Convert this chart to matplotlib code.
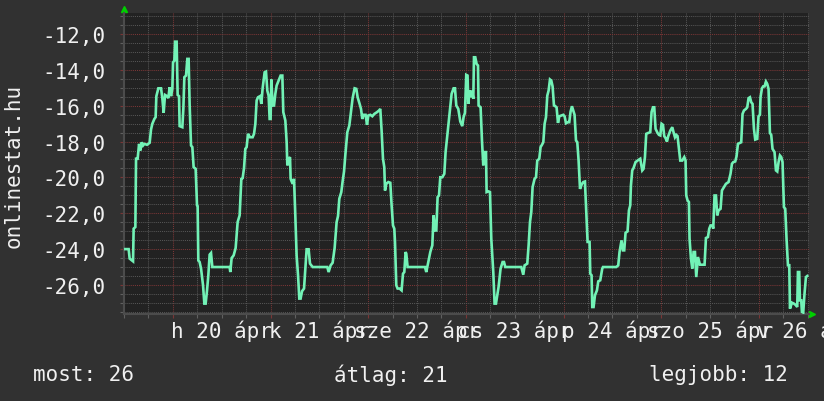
import matplotlib
matplotlib.use("Agg")
import matplotlib.pyplot as plt
import matplotlib.transforms as mtransforms
from matplotlib.ticker import MultipleLocator, FuncFormatter

# hours since apr 20 00:00, temperature readings
hours = [
    -11.67, -10.86, -10.61, -9.78, -9.63, -9.21, -9.04, -8.65, -8.30, -7.98,
    -7.66, -7.32, -7.00, -6.34, -5.70, -5.36, -5.04, -4.54, -4.23, -4.05,
    -3.56, -2.90, -2.58, -2.26, -1.92, -1.42, -1.11, -0.79, -0.44, -0.12,
    0.05, 0.37, 0.54, 0.93, 1.18, 1.52, 1.67, 2.33, 2.58, 2.83,
    3.24, 3.56, 3.88, 4.13, 4.47, 4.79, 5.11, 5.60, 5.94, 6.09,
    6.26, 6.58, 6.93, 7.42, 7.74, 8.06, 8.40, 8.72, 9.04, 9.38,
    9.70, 13.95, 14.12, 14.44, 14.94, 15.43, 15.92, 16.41,
    16.83, 17.15, 17.49, 17.81, 18.13, 18.47, 18.96, 19.60, 19.95, 20.27,
    20.59, 20.93, 21.42, 21.74, 22.06, 22.55, 22.89, 23.21, 23.53, 23.78,
    24.02, 24.20, 24.52, 24.86, 25.18, 25.50, 25.99, 26.48, 26.90, 27.14,
    27.64, 27.96, 28.13, 28.45, 28.79, 28.94, 29.43, 29.77, 30.09, 30.41,
    30.76, 31.07, 31.39, 31.74, 32.23, 32.55, 32.87, 33.36, 33.70, 34.34,
    37.95, 38.27, 38.76, 39.26, 39.75, 40.24, 40.58, 40.90, 41.39, 41.71,
    42.06, 42.37, 42.87, 43.36, 43.85, 44.17, 44.66,
    45.08, 45.40, 45.89, 46.23, 46.55, 46.87, 47.36, 47.71, 48.02, 48.52,
    49.01, 49.50, 50.16, 50.65, 50.97, 51.29, 51.63, 51.95, 52.13, 52.44,
    52.94, 53.43, 53.75, 54.09, 54.41, 54.58, 54.90, 55.22, 55.71, 56.20,
    56.55, 56.87, 57.19, 57.36, 57.68, 61.95, 62.27, 62.76, 63.26, 63.75,
    64.06, 64.41, 64.73, 65.05, 65.39, 65.71, 66.21, 66.70, 67.01, 67.51,
    67.85, 68.17, 68.49, 68.98, 69.32, 69.64, 70.13, 70.62, 71.11, 71.43,
    71.77, 72.09, 72.41, 72.58, 72.90,
    73.15, 73.50, 73.82, 73.99, 74.31, 74.63, 74.97, 75.12, 75.61, 75.95,
    76.27, 76.59, 76.94, 77.09, 77.58, 77.92, 78.24, 78.73, 79.05, 79.39,
    79.71, 80.03, 80.52, 81.02, 81.36, 81.68, 85.61, 86.10, 86.42, 87.08,
    87.41, 87.75, 88.07, 88.39, 88.88, 89.23, 89.54, 90.03, 90.35, 90.70,
    91.02, 91.34, 91.68, 92.00, 92.32, 92.66, 92.98, 93.30, 93.64, 93.96,
    94.28, 94.63, 94.95, 95.44, 95.93, 96.25, 96.59, 97.08, 97.40, 97.72,
    98.06, 98.38, 98.70, 99.05, 99.37, 99.69, 100.04, 100.52, 100.84, 101.25,
    101.58, 101.90, 102.39, 102.56, 102.88, 103.05, 103.37, 103.71, 104.20, 104.52,
    105.01, 105.50, 105.68,
    108.94, 109.43, 109.75, 110.24, 110.58, 110.90, 111.23, 111.72, 112.06, 112.38,
    112.55, 112.87, 113.19, 113.68, 114.18, 114.84, 115.33, 115.65, 115.99, 116.31,
    116.80, 117.30, 117.62, 117.96, 118.28, 118.60, 119.09, 119.44, 119.76, 120.08,
    120.42, 120.74, 121.06, 121.40, 121.72, 122.22, 122.71, 123.02, 123.37, 123.69,
    124.00, 124.35, 124.67, 125.16, 125.65, 125.97, 126.14, 126.46, 126.80, 126.95,
    127.30, 127.62, 127.94, 128.28, 128.60, 129.02, 129.51, 130.15, 130.64, 130.98,
    131.47, 131.79, 132.11, 132.60, 132.77, 133.09, 133.44, 133.76, 134.08, 134.57,
    134.91, 135.89, 136.53, 137.02, 137.37, 137.69, 138.18, 138.50, 138.84, 139.65,
    139.97, 140.32, 140.81, 141.13, 141.45, 141.79, 142.11, 142.43, 142.77, 143.09,
    143.58, 143.90, 144.24, 144.39, 144.74, 145.06, 145.38, 145.72, 146.04, 146.36,
    146.70, 147.02, 147.34, 147.83, 148.18, 148.50, 148.82, 149.16, 149.48, 149.80,
    150.14, 150.46, 150.78, 151.13, 151.45, 151.62, 152.11, 152.60, 153.09, 153.41,
    153.58, 153.90, 154.07, 154.39, 154.56, 154.88, 155.20, 155.55, 155.87,
]
temps = [
    -24.0, -24.0, -24.53, -24.68, -22.86, -22.77, -18.96, -18.96, -18.13, -18.5,
    -18.04, -18.22, -18.13, -18.18, -18.07, -17.33, -17.01, -16.74, -16.64, -15.47,
    -15.03, -15.03, -15.58, -16.4, -15.4, -15.47, -15.58, -14.97, -15.47, -15.06,
    -13.58, -13.49, -12.43, -12.43, -15.4, -15.47, -17.14, -17.2, -16.18, -14.41,
    -14.32, -13.39, -13.39, -15.96, -18.22, -18.31, -19.43, -19.52, -21.56, -21.6,
    -24.63, -24.72, -25.09, -26.02, -27.04, -27.04, -26.3, -25.46, -24.31, -24.22,
    -25.0, -25.0, -25.28, -24.5, -24.35, -23.94, -22.49, -22.12,
    -20.08, -20.04, -19.48, -18.41, -18.31, -17.57, -17.76, -17.76, -17.57, -17.01,
    -15.71, -15.53, -15.47, -15.9, -15.03, -14.14, -14.1, -15.16, -15.44, -16.74,
    -16.74, -14.54, -15.99, -15.99, -15.34, -14.88, -14.6, -14.32, -14.32, -16.36,
    -16.83, -18.03, -19.33, -18.96, -18.87, -20.08, -20.36, -20.08, -22.12, -24.35,
    -25.46, -26.76, -26.76, -26.35, -26.2, -25.09, -24.01, -24.01, -24.81, -25.0,
    -25.0, -25.28, -24.91, -24.76, -23.94, -22.49, -22.16, -21.19, -20.82, -20.23,
    -19.67, -18.78, -17.48, -17.11, -16.18, -15.58, -15.03,
    -15.06, -15.53, -15.9, -16.18, -16.74, -16.51, -16.51, -17.07, -16.55, -16.51,
    -16.59, -16.46, -16.36, -16.27, -16.18, -17.39, -18.96, -19.43, -20.73, -20.36,
    -20.26, -20.3, -21.56, -22.68, -22.86, -23.6, -26.02, -26.2, -26.2, -26.3,
    -25.37, -25.28, -24.16, -24.26, -25.0, -25.0, -25.28, -24.72, -24.16, -23.79,
    -22.12, -22.96, -22.96, -21.1, -21.01, -19.99, -19.99, -19.8, -18.59, -17.48,
    -16.74, -15.99, -15.34, -15.03, -15.03, -15.99, -16.18, -16.88, -17.14, -16.64,
    -16.4, -14.28, -14.32, -15.9, -15.16,
    -15.53, -15.16, -15.62, -13.3, -13.3, -13.67, -13.76, -15.99, -16.09, -17.94,
    -19.33, -18.59, -18.59, -20.82, -20.78, -20.82, -23.42, -25.28, -27.04, -27.04,
    -26.58, -26.11, -25.09, -24.72, -24.72, -25.0, -25.0, -25.43, -24.91, -24.81,
    -23.79, -22.49, -21.93, -20.54, -20.08, -19.99, -19.06, -18.96, -18.31, -18.18,
    -18.04, -17.01, -16.64, -15.44, -15.16, -14.54, -14.6, -14.92, -15.99, -16.03,
    -16.09, -16.96, -16.59, -16.55, -16.51, -16.59, -16.98, -16.92, -16.92, -16.33,
    -16.03, -16.27, -16.51, -17.94, -18.04, -19.06, -20.64, -20.36, -20.26, -20.23,
    -21.93, -23.6, -23.6, -25.37, -25.46, -27.23, -27.23, -26.58, -26.3, -25.8,
    -25.74, -25.09, -25.0,
    -25.0, -24.91, -24.16, -23.51, -24.07, -24.07, -23.09, -23.01, -21.84, -21.56,
    -20.45, -19.61, -19.48, -19.15, -19.06, -18.96, -19.61, -19.52, -18.87, -17.57,
    -17.52, -17.48, -16.36, -16.09, -16.09, -17.29, -17.52, -17.63, -17.66, -17.01,
    -17.07, -17.7, -17.81, -18.0, -17.7, -17.39, -17.2, -17.48, -17.76, -17.63,
    -17.7, -18.41, -19.06, -19.06, -18.87, -19.06, -21.01, -21.28, -21.38, -23.42,
    -24.53, -25.09, -24.16, -24.16, -25.56, -24.44, -24.87, -24.87, -24.87, -23.38,
    -23.33, -22.86, -22.68, -22.68, -22.86, -21.01, -21.01, -22.12, -21.84, -21.75,
    -20.73, -20.36, -20.26, -19.8, -19.24, -19.15, -19.11, -18.82, -18.13, -18.04,
    -16.46, -16.27, -16.18, -16.09, -15.58, -15.53, -15.81, -15.9, -17.29, -17.89,
    -17.85, -16.59, -16.51, -15.53, -15.03, -14.92, -14.92, -14.66, -14.79, -15.06,
    -17.52, -17.63, -18.41, -18.59, -19.61, -19.67, -19.15, -18.78, -18.87, -19.15,
    -21.66, -21.75, -23.42, -24.9, -24.9, -27.32, -26.99, -27.04, -27.13, -27.23,
    -25.28, -25.28, -26.86, -26.86, -27.5, -27.54, -26.48, -25.56, -25.5,
]

day_labels = ["h 20 ápr", "k 21 ápr", "sze 22 ápr", "cs 23 ápr",
              "p 24 ápr", "szo 25 ápr", "v 26 ápr"]
label_hours = [12, 36, 60, 84, 108, 132, 156]
stats = ["most: 26", "átlag: 21", "legjobb: 12"]
stats_x = [33, 334, 649]  # pixel positions of the footer texts

FIG_BG = "#313131"
AX_BG = "#222222"
LINE = "#72f2b6"
TXT = "#f0f0f0"
FS = 15

plt.rcParams["font.family"] = ["DejaVu Sans Mono", "DejaVu Sans"]

fig = plt.figure(figsize=(8.24, 4.02), dpi=100, facecolor=FIG_BG)
ax = fig.add_axes([124 / 824, 1 - 315 / 402, 685 / 824, 301 / 402])
ax.set_facecolor(AX_BG)

ax.plot(hours, temps, color=LINE, lw=1.9, solid_joinstyle="miter", zorder=3)

ax.set_xlim(-12, 156.3)
ax.set_ylim(-27.62, -10.83)

ax.xaxis.set_major_locator(MultipleLocator(24))
ax.xaxis.set_minor_locator(MultipleLocator(6))
ax.yaxis.set_major_locator(MultipleLocator(2))
ax.yaxis.set_minor_locator(MultipleLocator(0.5))
ax.yaxis.set_major_formatter(FuncFormatter(lambda v, p: f"{v:.1f}".replace(".", ",")))
ax.set_xticklabels([])

ax.set_axisbelow(True)
ax.grid(which="minor", color="#555555", ls=(0, (1, 1)), lw=0.75)
ax.grid(which="major", color="#7a3636", ls=(0, (1, 1)), lw=0.75)

ax.tick_params(axis="both", which="both", length=3, width=0.8, color="#606060")
ax.tick_params(axis="y", which="major", labelsize=FS, labelcolor=TXT, pad=10, color="#7a3636")
ax.tick_params(axis="x", which="major", color="#7a3636")

for s in ["top", "right"]:
    ax.spines[s].set_visible(False)
for s in ["left", "bottom"]:
    ax.spines[s].set_color("#4c4c4c")
    ax.spines[s].set_linewidth(1.5)

# arrow heads on the axes
ax.plot([0], [1.013], marker="^", color="#00d000", ms=5, transform=ax.transAxes, clip_on=False)
ax.plot([1.004], [0], marker=">", color="#00d000", ms=5, transform=ax.transAxes, clip_on=False)

# day labels centred at noon
trans = mtransforms.blended_transform_factory(ax.transData, fig.transFigure)
for h, lab in zip(label_hours, day_labels):
    ax.text(h, 1 - 331 / 402, lab, transform=trans, ha="center", va="center",
            fontsize=FS, color=TXT, clip_on=False)

fig.text(14 / 824, 1 - 166 / 402, "onlinestat.hu", rotation=90, ha="center",
         va="center", fontsize=FS, color=TXT)

for x, s in zip(stats_x, stats):
    fig.text(x / 824, 1 - 375 / 402, s, ha="left", va="center", fontsize=FS, color=TXT)

fig.savefig("out.png", dpi=100, facecolor=FIG_BG)
